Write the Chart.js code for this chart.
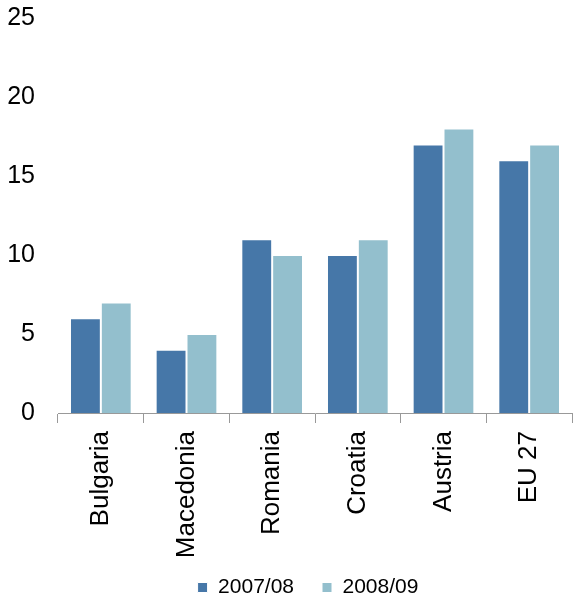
<!DOCTYPE html>
<html>
<head>
<meta charset="utf-8">
<script src="https://cdn.jsdelivr.net/npm/chart.js@4"></script>
<style>
  html, body { margin: 0; padding: 0; background: #fff; }
  #wrap { width: 578px; height: 604px; }
</style>
</head>
<body>
<div id="wrap"><canvas id="myChart"></canvas></div>
<script>
var categories = ["Bulgaria", "Macedonia", "Romania", "Croatia", "Austria", "EU 27"];
var series2007 = [6, 4, 11, 10, 17, 16];
var series2008 = [7, 5, 10, 11, 18, 17];
var seriesNames = ["2007/08", "2008/09"];

Chart.defaults.font.family = "'Liberation Sans', Arial, sans-serif";
Chart.defaults.color = "#000";

// legend padding is also the gap between items, so keep its layout box short
// and stretch it up over the label area after layout
var legendShift = {
    id: 'legendShift',
    afterLayout: function (chart) {
        var l = chart.legend;
        l.top -= 23;
        l.bottom = chart.height;
        l.height = l.bottom - l.top;
        l.left += 22; l.right += 22;
    }
};

var ctx = document.getElementById("myChart").getContext('2d');
var myChart = new Chart(ctx, {
    type: 'bar',
    data: {
        labels: categories,
        datasets: [{
            label: seriesNames[0],
            data: series2007,
            backgroundColor: "#4677a8",
            borderColor: "#fff",
            borderWidth: 1,
            barPercentage: 1,
            categoryPercentage: 0.72
        }, {
            label: seriesNames[1],
            data: series2008,
            backgroundColor: "#93bfcd",
            borderColor: "#fff",
            borderWidth: 1,
            barPercentage: 1,
            categoryPercentage: 0.72
        }]
    },
    options: {
        responsive: true,
        maintainAspectRatio: false,
        animation: false,
        layout: { padding: { top: 18, right: 6, left: 0, bottom: 0 } },
        scales: {
            x: {
                grid: { display: true, offset: true, drawOnChartArea: false, tickLength: 10, color: "#999" },
                border: { display: true, color: "#999" },
                ticks: { font: { size: 26 }, maxRotation: 90, minRotation: 90, padding: 8 },
                afterFit: function (scale) { scale.height = 159; }
            },
            y: {
                min: 0,
                max: 25,
                grid: { display: false },
                border: { display: false },
                ticks: { stepSize: 5, font: { size: 25 }, padding: 15 },
                afterFit: function (scale) {
                    scale.width = 58;
                    scale.paddingTop = 0;
                    scale.paddingBottom = 0;
                }
            }
        },
        plugins: {
            legend: {
                position: 'bottom',
                maxHeight: 32,
                labels: { boxWidth: 10, boxHeight: 10, font: { size: 21 }, padding: 28 }
            },
            tooltip: { enabled: false }
        }
    },
    plugins: [legendShift]
});
</script>
</body>
</html>
